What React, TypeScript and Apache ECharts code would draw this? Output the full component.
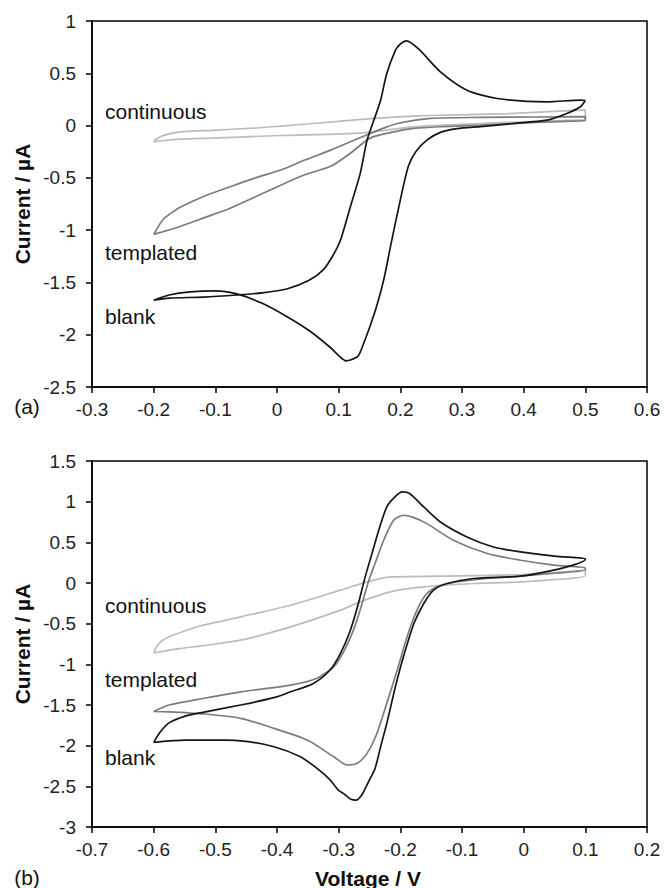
import React, { useEffect, useRef } from "react";
import * as echarts from "echarts";

// ---------- (a) top panel data ----------
const aBlankV = [0.5, 0.492, 0.47, 0.438, 0.383, 0.33, 0.292, 0.265, 0.243, 0.225, 0.213, 0.2, 0.184, 0.174, 0.163, 0.152, 0.142, 0.132, 0.12, 0.112, 0.1, 0.086, 0.052, 0.017, -0.024, -0.065, -0.1, -0.141, -0.175, -0.2,
  -0.175, -0.12, -0.065, -0.024, 0.017, 0.052, 0.075, 0.09, 0.103, 0.119, 0.135, 0.146, 0.157, 0.168, 0.178, 0.192, 0.2, 0.21, 0.23, 0.265, 0.308, 0.357, 0.438, 0.492, 0.5];
const aBlankI = [0.24, 0.18, 0.116, 0.052, 0.02, -0.01, -0.03, -0.065, -0.139, -0.25, -0.39, -0.71, -1.157, -1.45, -1.7, -1.9, -2.06, -2.2, -2.24, -2.25, -2.2, -2.12, -1.96, -1.83, -1.7, -1.61, -1.58, -1.59, -1.62, -1.67,
  -1.65, -1.64, -1.62, -1.6, -1.56, -1.48, -1.38, -1.25, -1.094, -0.776, -0.457, -0.14, 0.05, 0.243, 0.498, 0.72, 0.78, 0.81, 0.73, 0.513, 0.338, 0.259, 0.227, 0.243, 0.24];

const aTemplV = [-0.2, -0.185, -0.17, -0.157, -0.12, -0.076, -0.035, 0.006, 0.045, 0.087, 0.125, 0.151, 0.175, 0.195, 0.249, 0.33, 0.42, 0.5,
  0.5, 0.492, 0.42, 0.33, 0.27, 0.222, 0.19, 0.151, 0.12, 0.087, 0.045, 0.006, -0.035, -0.076, -0.12, -0.157, -0.185, -0.2];
const aTemplI = [-1.04, -0.9, -0.83, -0.78, -0.68, -0.585, -0.5, -0.425, -0.33, -0.235, -0.14, -0.075, -0.02, 0.02, 0.068, 0.078, 0.082, 0.085,
  0.05, 0.045, 0.03, 0.004, -0.01, -0.027, -0.06, -0.12, -0.26, -0.39, -0.47, -0.57, -0.68, -0.79, -0.885, -0.965, -1.015, -1.04];

const aContV = [-0.2, -0.19, -0.175, -0.157, -0.106, -0.038, 0.006, 0.1, 0.157, 0.237, 0.276, 0.375, 0.492, 0.5,
  0.5, 0.492, 0.375, 0.33, 0.221, 0.14, 0.006, -0.106, -0.157, -0.2];
const aContI = [-0.15, -0.11, -0.08, -0.06, -0.045, -0.025, -0.005, 0.04, 0.068, 0.095, 0.1, 0.115, 0.147, 0.15,
  0.05, 0.052, 0.03, 0.02, -0.012, -0.07, -0.095, -0.12, -0.13, -0.155];

// ---------- (b) bottom panel data ----------
const bBlankV = [-0.6, -0.589, -0.575, -0.55, -0.52, -0.459, -0.405, -0.378, -0.341, -0.314, -0.297, -0.281, -0.268, -0.257, -0.246, -0.235, -0.222, -0.21, -0.197, -0.185, -0.162, -0.135, -0.092, -0.049, -0.005, 0.05, 0.1,
  0.1, 0.08, 0.043, -0.005, -0.081, -0.124, -0.146, -0.162, -0.178, -0.195, -0.208, -0.222, -0.232, -0.241, -0.252, -0.262, -0.272, -0.28, -0.29, -0.3, -0.314, -0.335, -0.362, -0.405, -0.459, -0.52, -0.575, -0.6];
const bBlankI = [-1.96, -1.83, -1.72, -1.64, -1.59, -1.5, -1.41, -1.338, -1.235, -1.07, -0.866, -0.58, -0.252, 0.075, 0.362, 0.649, 0.935, 1.05, 1.12, 1.1, 0.935, 0.75, 0.566, 0.443, 0.382, 0.33, 0.3,
  0.29, 0.22, 0.15, 0.084, 0.055, -0.006, -0.088, -0.252, -0.498, -0.908, -1.276, -1.726, -2.013, -2.28, -2.45, -2.6, -2.67, -2.66, -2.6, -2.55, -2.42, -2.28, -2.136, -2.013, -1.94, -1.93, -1.94, -1.96];

const bTemplV = [-0.6, -0.575, -0.52, -0.459, -0.378, -0.335, -0.308, -0.292, -0.276, -0.262, -0.251, -0.241, -0.227, -0.211, -0.195, -0.18, -0.157, -0.114, -0.059, -0.005, 0.05, 0.1,
  0.1, 0.05, -0.005, -0.08, -0.135, -0.157, -0.173, -0.189, -0.205, -0.222, -0.238, -0.254, -0.27, -0.286, -0.308, -0.351, -0.405, -0.459, -0.52, -0.575, -0.6];
const bTemplI = [-1.58, -1.5, -1.42, -1.338, -1.255, -1.17, -1.03, -0.846, -0.58, -0.252, 0.034, 0.24, 0.526, 0.77, 0.833, 0.81, 0.73, 0.526, 0.362, 0.28, 0.22, 0.185,
  0.16, 0.12, 0.086, 0.04, -0.027, -0.129, -0.334, -0.662, -1.07, -1.48, -1.85, -2.095, -2.217, -2.238, -2.136, -1.931, -1.787, -1.664, -1.61, -1.585, -1.58];

const bContV = [-0.6, -0.595, -0.585, -0.561, -0.52, -0.459, -0.378, -0.297, -0.254, -0.216, -0.135, -0.005, 0.1,
  0.1, -0.005, -0.081, -0.162, -0.216, -0.265, -0.297, -0.378, -0.459, -0.52, -0.561, -0.6];
const bContI = [-0.86, -0.78, -0.7, -0.62, -0.52, -0.416, -0.273, -0.088, 0.014, 0.075, 0.084, 0.104, 0.16,
  0.09, 0.014, -0.006, -0.048, -0.109, -0.232, -0.334, -0.539, -0.703, -0.77, -0.81, -0.86];

// axis extents
const aX = { min: -0.3, max: 0.6, step: 0.1 };
const aY = { min: -2.5, max: 1, step: 0.5 };
const bX = { min: -0.7, max: 0.2, step: 0.1 };
const bY = { min: -3, max: 1.5, step: 0.5 };

const seriesNames = ["blank", "templated", "continuous"];
const yTitle = "Current / µA";
const xTitle = "Voltage / V";
const panelTags = ["(a)", "(b)"];

const COLORS = ["#151515", "#7c7c7c", "#bcbcbc"];
const FONT = "'Liberation Sans', Arial, sans-serif";

const zip = (xs: number[], ys: number[]) => xs.map((x, i) => [x, ys[i]]);
const fmt = (v: number) => {
  const r = Math.round(v * 10) / 10;
  return r === 0 ? "0" : String(r);
};

export default function App() {
  const ref = useRef<HTMLDivElement>(null);
  useEffect(() => {
    if (!ref.current) return;
    const chart = echarts.init(ref.current, undefined, { renderer: "svg" });

    const grids = [
      { left: 92, top: 21, width: 555, height: 366 },
      { left: 92, top: 461, width: 555, height: 366 },
    ];
    const mkX = (ax: any, gi: number) => ({
      type: "value",
      gridIndex: gi,
      min: ax.min,
      max: ax.max,
      interval: ax.step,
      axisLine: { show: true, onZero: false, lineStyle: { color: "#000", width: 1.5 } },
      axisTick: { show: true, inside: false, length: 6, lineStyle: { color: "#000", width: 1.5 } },
      splitLine: { show: false },
      axisLabel: { fontSize: 19, color: "#222", fontFamily: FONT, margin: 13, formatter: fmt, showMinLabel: true, showMaxLabel: true },
    });
    const mkY = (ax: any, gi: number) => ({
      type: "value",
      gridIndex: gi,
      min: ax.min,
      max: ax.max,
      interval: ax.step,
      axisLine: { show: true, onZero: false, lineStyle: { color: "#000", width: 1.5 } },
      axisTick: { show: true, inside: false, length: 6, lineStyle: { color: "#000", width: 1.5 } },
      splitLine: { show: false },
      axisLabel: { fontSize: 19, color: "#222", fontFamily: FONT, margin: 16, formatter: fmt, showMinLabel: true, showMaxLabel: true },
    });

    const mkSeries = (name: string, xs: number[], ys: number[], color: string, gi: number) => ({
      name,
      type: "line",
      xAxisIndex: gi,
      yAxisIndex: gi,
      data: zip(xs, ys),
      showSymbol: false,
      symbol: "none",
      smooth: 0.25,
      lineStyle: { color, width: 1.7 },
      z: color === COLORS[0] ? 4 : color === COLORS[1] ? 3 : 2,
    });

    const txt = (text: string, x: number, y: number, extra: any = {}) => ({
      type: "text",
      x,
      y,
      style: {
        text,
        fill: "#111",
        font: `21px ${FONT}`,
        textAlign: "left",
        textVerticalAlign: "middle",
        ...extra,
      },
    });

    chart.setOption({
      animation: false,
      backgroundColor: "#fff",
      grid: grids.map((g) => ({ ...g, show: true, borderColor: "#000", borderWidth: 1.5, backgroundColor: "transparent" })),
      xAxis: [mkX(aX, 0), mkX(bX, 1)],
      yAxis: [mkY(aY, 0), mkY(bY, 1)],
      series: [
        mkSeries(seriesNames[2], aContV, aContI, COLORS[2], 0),
        mkSeries(seriesNames[1], aTemplV, aTemplI, COLORS[1], 0),
        mkSeries(seriesNames[0], aBlankV, aBlankI, COLORS[0], 0),
        mkSeries(seriesNames[2], bContV, bContI, COLORS[2], 1),
        mkSeries(seriesNames[1], bTemplV, bTemplI, COLORS[1], 1),
        mkSeries(seriesNames[0], bBlankV, bBlankI, COLORS[0], 1),
      ],
      graphic: [
        txt("continuous", 105, 111),
        txt("templated", 105, 252),
        txt("blank", 105, 316),
        txt("continuous", 105, 605),
        txt("templated", 105, 679),
        txt("blank", 105, 757),
        txt(panelTags[0], 27, 406, { textAlign: "center" }),
        txt(panelTags[1], 27, 877, { textAlign: "center" }),
        {
          type: "text",
          x: 22,
          y: 204,
          rotation: Math.PI / 2,
          style: { text: yTitle, fill: "#111", font: `bold 21px ${FONT}`, textAlign: "center", textVerticalAlign: "middle" },
        },
        {
          type: "text",
          x: 22,
          y: 644,
          rotation: Math.PI / 2,
          style: { text: yTitle, fill: "#111", font: `bold 21px ${FONT}`, textAlign: "center", textVerticalAlign: "middle" },
        },
        {
          type: "text",
          x: 368,
          y: 878,
          style: { text: xTitle, fill: "#111", font: `bold 21px ${FONT}`, textAlign: "center", textVerticalAlign: "middle" },
        },
      ],
    });
    return () => chart.dispose();
  }, []);
  return <div ref={ref} style={{ position: "absolute", left: 0, top: 0, width: 664, height: 888 }} />;
}
